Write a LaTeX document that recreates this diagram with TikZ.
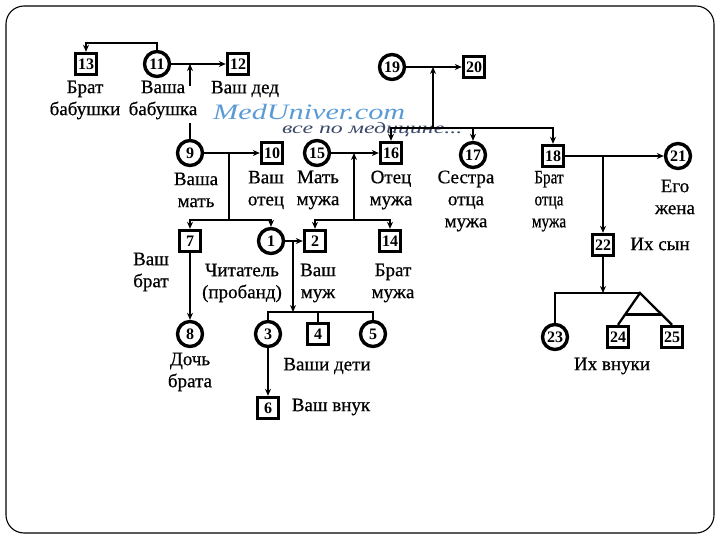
\documentclass[tikz,border=0pt]{standalone}
\usepackage{fontspec}
\usepackage{graphicx}
\setmainfont{Liberation Serif}
\newfontfamily\lblfont[FakeBold=0.6]{Liberation Serif}
\usetikzlibrary{arrows.meta,calc}
\definecolor{wmblue}{HTML}{5B9BD5}
\definecolor{wmdark}{HTML}{3A4868}
\tikzset{
  fem/.style={circle, draw, line width=3.4pt, minimum size=25pt, inner sep=0pt, font=\bfseries\fontsize{16}{16}\selectfont},
  male/.style={rectangle, draw, line width=3.4pt, minimum size=21pt, inner sep=0pt, font=\bfseries\fontsize{16}{16}\selectfont},
  lbl/.style={align=center, inner sep=0pt, font=\lblfont\fontsize{19}{22}\selectfont},
  con/.style={line width=2.3pt},
  arr/.style={con, -{Stealth[length=7pt,width=6pt]}},
}
\begin{document}
\begin{tikzpicture}[x=1pt,y=-1pt]
\useasboundingbox (0,0) rectangle (720,540);
\draw[line width=1.1pt, rounded corners=18pt] (6,6) rectangle (714,533);

% watermark
\node[anchor=base west, inner sep=0pt, font=\itshape\fontsize{22}{22}\selectfont, text=wmblue] (wm1) at (213,120) {\resizebox{192pt}{\height}{MedUniver.com}};
\node[anchor=base west, inner sep=0pt, font=\itshape\fontsize{16}{16}\selectfont, text=wmdark] (wm2) at (282,134) {\resizebox{180pt}{\height}{все по медицине...}};

% nodes
\node[male] (n13) at (86,64) {13};
\node[fem]  (n11) at (157,64) {11};
\node[male] (n12) at (238,64) {12};
\node[fem]  (n19) at (392,67) {19};
\node[male] (n20) at (474,67) {20};
\node[fem]  (n9)  at (190,153) {9};
\node[male] (n10) at (272,153) {10};
\node[fem]  (n15) at (317,153) {15};
\node[male] (n16) at (391,153) {16};
\node[fem]  (n17) at (473,155) {17};
\node[male] (n18) at (553,156) {18};
\node[fem]  (n21) at (678,156) {21};
\node[male] (n7)  at (190,241) {7};
\node[fem]  (n1)  at (271,241) {1};
\node[male] (n2)  at (315,241) {2};
\node[male] (n14) at (390,241) {14};
\node[male] (n22) at (603,245) {22};
\node[fem]  (n8)  at (190,334) {8};
\node[fem]  (n3)  at (268,334) {3};
\node[male] (n4)  at (318,334) {4};
\node[fem]  (n5)  at (373,334) {5};
\node[fem]  (n23) at (555,337) {23};
\node[male] (n24) at (618,337) {24};
\node[male] (n25) at (672,337) {25};
\node[male] (n6)  at (268,408) {6};

% coordinates
\coordinate (m11) at (190,64);
\coordinate (g11a) at (190,86);
\coordinate (g11b) at (190,123);
\coordinate (m9) at (229,153);
\coordinate (b9) at (229,220);
\coordinate (m15) at (354,153);
\coordinate (b15) at (354,220);
\coordinate (m19) at (433,67);
\coordinate (b19) at (433,128);
\coordinate (m18) at (603,156);
\coordinate (m1) at (293,241);
\coordinate (b1) at (293,312);
\coordinate (b22) at (603,293);
\coordinate (apex) at (640,293);

% connectors
\draw[arr] (n11.north) -- ++(0,-7) -| (n13.north);
\draw[arr] (n11.east) -- (n12.west);
\draw[arr] (g11a) -- (m11);
\draw[con] (n9.north) -- (g11b);

\draw[arr] (n9.east) -- (n10.west);
\draw[con] (m9) -- (b9);
\draw[arr] (b9) -| (n7.north);
\draw[arr] (b9) -| (n1.north);

\draw[arr] (n15.east) -- (n16.west);
\draw[arr] (b15) -- (m15);
\draw[arr] (b15) -| (n2.north);
\draw[arr] (b15) -| (n14.north);

\draw[arr] (n19.east) -- (n20.west);
\draw[arr] (b19) -- (m19);
\draw[arr] (b19) -| (n16.north);
\draw[arr] (b19) -| (n17.north);
\draw[arr] (b19) -| (n18.north);

\draw[arr] (n18.east) -- (n21.west);
\draw[arr] (m18) -- (n22.north);

\draw[arr] (n1.east) -- (n2.west);
\draw[arr] (m1) -- (b1);
\draw[con] (n3.north) |- (b1) -| (n5.north);
\draw[con] (n4.north) -- (n4.north |- b1);
\draw[arr] (n3.south) -- (n6.north);
\draw[arr] (n7.south) -- (n8.north);

\draw[arr] (n22.south) -- (b22);
\draw[con] (n23.north) |- (apex);
\draw[con] (n24.north) -- (apex) -- (n25.north);
\draw[con] ($(apex)!0.68!(n24.north)$) -- ($(apex)!0.68!(n25.north)$);

% labels
\node[lbl] (l13) at (85,100) {Брат\\бабушки};
\node[lbl] (l11) at (163,100) {Ваша\\бабушка};
\node[lbl] (l12) at (245,89) {Ваш дед};
\node[lbl] (l9) at (196,190) {Ваша\\мать};
\node[lbl] (l10) at (266,190) {Ваш\\отец};
\node[lbl] (l15) at (318,190) {Мать\\мужа};
\node[lbl] (l16) at (391,190) {Отец\\мужа};
\node[lbl] (l17) at (466,201) {Сестра\\отца\\мужа};
\node[lbl] (l18) at (549,201) {\scalebox{0.8}[1]{\begin{tabular}{@{}c@{}}Брат\\отца\\мужа\end{tabular}}};
\node[lbl] (l21) at (675,197) {Его\\жена};
\node[lbl] (l7) at (151,272) {Ваш\\брат};
\node[lbl] (l1) at (242,283) {Читатель\\(пробанд)};
\node[lbl] (l2) at (318,283) {Ваш\\муж};
\node[lbl] (l14) at (393,283) {Брат\\мужа};
\node[lbl] (l8) at (190,372) {Дочь\\брата};
\node[lbl] (l345) at (327,366) {Ваши дети};
\node[lbl] (l6) at (331,407) {Ваш внук};
\node[lbl] (l22) at (660,244) {Их сын};
\node[lbl] (l2325) at (612,366) {Их внуки};
\end{tikzpicture}
\end{document}
